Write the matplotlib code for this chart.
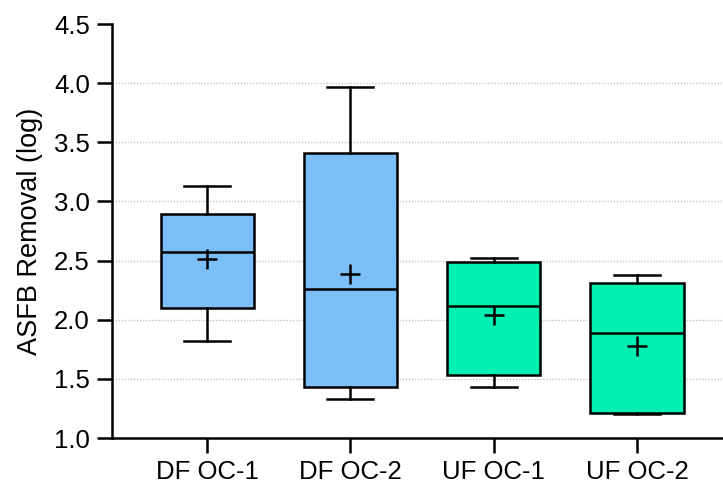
import matplotlib
matplotlib.use("Agg")
import matplotlib.pyplot as plt

plt.rcParams["font.family"] = ["Liberation Sans", "DejaVu Sans"]

# box statistics (log removal)
groups = ["DF OC-1", "DF OC-2", "UF OC-1", "UF OC-2"]
whisker_lo = [1.82, 1.33, 1.43, 1.20]
q1 = [2.10, 1.43, 1.53, 1.21]
median = [2.57, 2.26, 2.12, 1.89]
mean = [2.51, 2.39, 2.04, 1.78]
q3 = [2.89, 3.41, 2.49, 2.31]
whisker_hi = [3.13, 3.97, 2.52, 2.38]
colours = ["#7bbff9", "#7bbff9", "#00f0b2", "#00f0b2"]

yticks = [1.0, 1.5, 2.0, 2.5, 3.0, 3.5, 4.0, 4.5]

fig = plt.figure(figsize=(7.23, 4.87), dpi=100)
ax = fig.add_axes([0.155, 0.1006, 0.845, 0.85])

stats = []
for i, g in enumerate(groups):
    stats.append({
        "label": g, "whislo": whisker_lo[i], "q1": q1[i], "med": median[i],
        "mean": mean[i], "q3": q3[i], "whishi": whisker_hi[i], "fliers": [],
    })

lw = 1.8
pos = list(range(len(groups)))
bp = ax.bxp(stats, positions=pos, widths=0.65, capwidths=0.32,
            showmeans=True, patch_artist=True,
            boxprops=dict(linewidth=lw, edgecolor="black"),
            medianprops=dict(color="black", linewidth=lw),
            whiskerprops=dict(color="black", linewidth=lw),
            capprops=dict(color="black", linewidth=lw),
            meanprops=dict(marker="+", markersize=14, markeredgecolor="black",
                           markeredgewidth=lw))
for patch, c in zip(bp["boxes"], colours):
    patch.set_facecolor(c)

for y in yticks[1:-1]:
    ax.axhline(y, color="#c4c4c4", linestyle=(0, (1, 1.2)), linewidth=1.0, zorder=0)

ax.set_xlim(-0.663, 3.6)
ax.set_ylim(1.0, 4.5)
ax.set_yticks(yticks)
ax.set_yticklabels([f"{v:.1f}" for v in yticks])
ax.set_xticks(pos)
ax.set_xticklabels(groups)
ax.set_ylabel("ASFB Removal (log)", fontsize=19.5, labelpad=8)

ax.spines["top"].set_visible(False)
ax.spines["right"].set_visible(False)
for s in ["left", "bottom"]:
    ax.spines[s].set_linewidth(lw)
ax.tick_params(axis="both", length=11, width=lw, labelsize=18.5, pad=5)

fig.savefig("out.png", dpi=100)
